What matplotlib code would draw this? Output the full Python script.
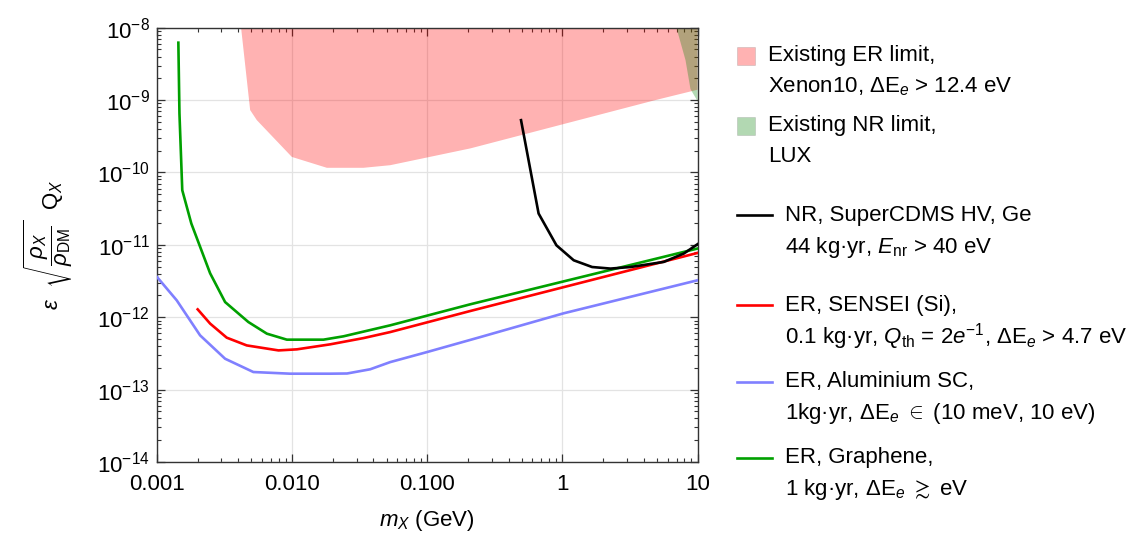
import matplotlib
matplotlib.use("Agg")
import matplotlib.pyplot as plt
from matplotlib.patches import Rectangle
from matplotlib.lines import Line2D
import numpy as np

plt.rcParams['font.family'] = ['Liberation Sans', 'DejaVu Sans']
plt.rcParams['mathtext.fontset'] = 'custom'
plt.rcParams['mathtext.rm'] = 'Liberation Sans'
plt.rcParams['mathtext.it'] = 'Liberation Sans:italic'
plt.rcParams['mathtext.bf'] = 'Liberation Sans:bold'

# ---------------- data ----------------
graphene_m = [0.001439, 0.001466, 0.001538, 0.001795, 0.002472, 0.003192, 0.004742,
              0.006501, 0.009141, 0.01706, 0.02399, 0.05321, 0.2084, 10]
graphene_eps = [6.21e-9, 6.55e-10, 5.69e-11, 1.97e-11, 4.05e-12, 1.62e-12, 8.59e-13,
                5.93e-13, 4.90e-13, 4.90e-13, 5.45e-13, 7.73e-13, 1.51e-12, 8.89e-12]

sensei_m = [0.002, 0.002472, 0.003281, 0.004613, 0.007925, 0.01084, 0.0191,
            0.03373, 0.05321, 0.2084, 10]
sensei_eps = [1.285e-12, 8.17e-13, 5.22e-13, 4.08e-13, 3.48e-13, 3.60e-13, 4.22e-13,
              5.15e-13, 6.24e-13, 1.22e-12, 7.73e-12]

alsc_m = [0.001, 0.0014, 0.002084, 0.003192, 0.005164, 0.00966, 0.0191, 0.0255,
          0.03784, 0.0532, 0.0995, 0.247, 1.016, 10]
alsc_eps = [3.60e-12, 1.71e-12, 5.62e-13, 2.67e-13, 1.75e-13, 1.66e-13, 1.66e-13, 1.67e-13,
            1.91e-13, 2.40e-13, 3.30e-13, 5.32e-13, 1.13e-12, 3.24e-12]

cdms_m = [0.4943, 0.6668, 0.9036, 1.213, 1.66, 2.27, 3.192, 5.623, 7.925, 10]
cdms_eps = [5.28e-10, 2.71e-11, 9.86e-12, 6.12e-12, 4.94e-12, 4.70e-12, 4.94e-12,
            5.81e-12, 7.59e-12, 1.02e-11]

xenon10_m = [0.00419, 0.00489, 0.00548, 0.00995, 0.01807, 0.03373, 0.05321, 0.2084, 4.887, 10]
xenon10_eps = [1e-8, 7.28e-10, 5.28e-10, 1.64e-10, 1.16e-10, 1.16e-10, 1.26e-10,
               2.15e-10, 1.0e-9, 1.39e-9]

lux_m = [6.98, 8.15, 8.87, 10]
lux_eps = [1e-8, 3.57e-9, 1.42e-9, 9.68e-10]

x_ticks = [0.001, 0.01, 0.1, 1, 10]
x_ticklabels = ["0.001", "0.010", "0.100", "1", "10"]
y_top = 1e-8
y_bottom = 1e-14

legend_entries = [
    ("patch", "red", "Existing ER limit,", r"Xenon10, ΔE$_e$ > 12.4 eV"),
    ("patch", "green", "Existing NR limit,", "LUX"),
    ("line", "black", "NR, SuperCDMS HV, Ge", r"44 kg·yr, $E_{\mathrm{nr}}$ > 40 eV"),
    ("line", "#ff0000", "ER, SENSEI (Si),", r"0.1 kg·yr, $Q_{\mathrm{th}}$ = 2$e^{-1}$, ΔE$_e$ > 4.7 eV"),
    ("line", "#8080ff", "ER, Aluminium SC,", r"1kg·yr, ΔE$_e$ $\in$ (10 meV, 10 eV)"),
    ("line", "#00a000", "ER, Graphene,", r"1 kg·yr, ΔE$_e$ $\gtrsim$ eV"),
]

# ---------------- figure ----------------
W, H = 1136, 534
fig = plt.figure(figsize=(W / 100, H / 100), dpi=100)
ax_l, ax_r, ax_t, ax_b = 157, 697.5, 27.7, 462
ax = fig.add_axes([ax_l / W, 1 - ax_b / H, (ax_r - ax_l) / W, (ax_b - ax_t) / H])

ax.set_xscale('log')
ax.set_yscale('log')

ax.fill_between(xenon10_m, xenon10_eps, y_top, facecolor='red', alpha=0.3, linewidth=0, zorder=1)
ax.fill_between(lux_m, lux_eps, y_top, facecolor='green', alpha=0.3, linewidth=0, zorder=1.1)

lw = 1.9
ax.plot(graphene_m, graphene_eps, color='#00a000', lw=lw, zorder=3)
ax.plot(sensei_m, sensei_eps, color='#ff0000', lw=lw, zorder=3)
ax.plot(alsc_m, alsc_eps, color='#8080ff', lw=lw, zorder=3)
ax.plot(cdms_m, cdms_eps, color='black', lw=lw, zorder=4)

ax.set_xlim(1e-3, 10)
ax.set_ylim(y_bottom, y_top)
ax.set_xticks(x_ticks, x_ticklabels)
ax.set_yticks([10.0 ** k for k in range(-14, -7)])

ax.grid(True, which='major', color='#e3e3e3', lw=0.9, zorder=0)
ax.set_axisbelow(True)
ax.tick_params(which='both', direction='in', top=True, right=True, colors='#333333',
               labelcolor='black', labelsize=16)
ax.tick_params(which='major', length=6, width=0.9)
ax.tick_params(which='minor', length=3, width=0.8)
ax.tick_params(axis='x', pad=9)
ax.tick_params(axis='y', pad=5)
for s in ax.spines.values():
    s.set_color('#333333')
    s.set_linewidth(1.0)

ax.set_xlabel(r'$m_X$ (GeV)', fontsize=16, labelpad=9)
ax.set_ylabel(r'$\epsilon\ \ \sqrt{\dfrac{\rho_X}{\rho_{\mathrm{DM}}}}\ \ \mathrm{Q}_X$',
              fontsize=16, labelpad=16)

# ---------------- legend (figure pixel coordinates) ----------------
lg = fig.add_axes([0, 0, 1, 1])
lg.set_xlim(0, W)
lg.set_ylim(H, 0)
lg.axis('off')
lg.patch.set_alpha(0)

entry_y = [56, 126, 215, 305, 382, 458]
line2_dy = [31, 31, 33, 32, 31, 32]
fs = 16
for (kind, col, l1, l2), y0, dy in zip(legend_entries, entry_y, line2_dy):
    if kind == "patch":
        lg.add_patch(Rectangle((737, y0 - 9), 18, 18, facecolor=col, alpha=0.3,
                               edgecolor='#888888', lw=0.6))
        tx = 768
    else:
        lg.add_line(Line2D([737, 772], [y0, y0], color=col, lw=lw))
        tx = 785
    lg.text(tx, y0, l1, fontsize=fs, va='center', ha='left')
    lg.text(tx, y0 + dy, l2, fontsize=fs, va='center', ha='left')

fig.savefig('out.png', dpi=100)
